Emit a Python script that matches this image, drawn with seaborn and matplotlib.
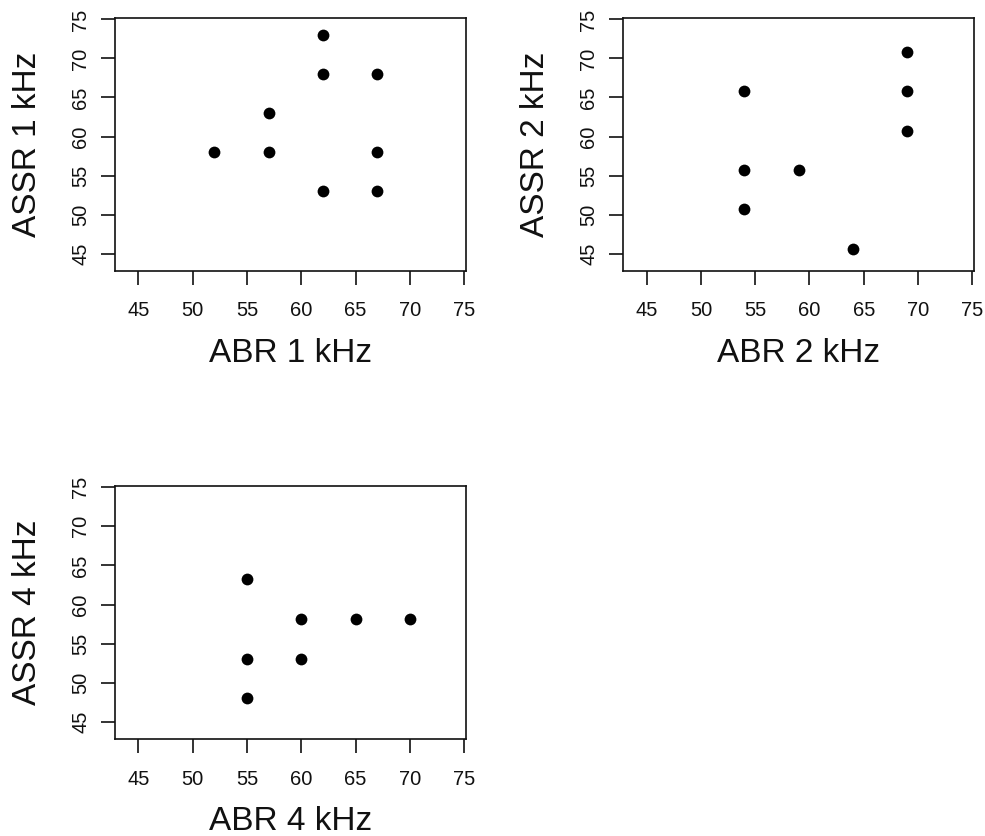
import matplotlib
matplotlib.use("Agg")
import matplotlib.pyplot as plt
import seaborn as sns
import pandas as pd

# ── data ──────────────────────────────────────────────────────────────────────
abr_1k  = [52, 57, 57, 62, 62, 62, 67, 67, 67]
assr_1k = [58, 63, 58, 73, 68, 53, 68, 58, 53]

abr_2k  = [54, 54, 54, 59, 64, 69, 69, 69]
assr_2k = [65.8, 55.7, 50.7, 55.7, 45.6, 70.8, 65.8, 60.7]

abr_4k  = [55, 55, 55, 60, 60, 65, 70]
assr_4k = [63.3, 53.1, 48.1, 58.1, 53.1, 58.1, 58.1]

ticks = [45, 50, 55, 60, 65, 70, 75]

# ── style ─────────────────────────────────────────────────────────────────────
sns.set_style("ticks")
plt.rcParams["font.family"] = ["Liberation Sans", "DejaVu Sans"]

fig = plt.figure(figsize=(9.85, 8.36), dpi=100)

panels = [
    (abr_1k, assr_1k, "ABR 1 kHz", "ASSR 1 kHz", [0.1168, 0.6762, 0.356, 0.3019]),
    (abr_2k, assr_2k, "ABR 2 kHz", "ASSR 2 kHz", [0.6328, 0.6762, 0.356, 0.3019]),
    (abr_4k, assr_4k, "ABR 4 kHz", "ASSR 4 kHz", [0.1168, 0.1157, 0.356, 0.3030]),
]

for x, y, xl, yl, rect in panels:
    ax = fig.add_axes(rect)
    df = pd.DataFrame({"x": x, "y": y})
    sns.scatterplot(data=df, x="x", y="y", ax=ax, color="black",
                    s=72, linewidth=0, marker="o")
    ax.set_xlim(42.85, 75.15)
    ax.set_ylim(42.8, 75.15)
    ax.set_xticks(ticks)
    ax.set_yticks(ticks)
    ax.tick_params(axis="both", direction="out", length=10, width=1.2,
                   color="#111111", labelsize=14.5, labelcolor="#111111")
    ax.tick_params(axis="x", pad=12)
    ax.tick_params(axis="y", pad=8)
    for lab in ax.get_yticklabels():
        lab.set_rotation(90)
        lab.set_va("center")
    for sp in ax.spines.values():
        sp.set_linewidth(1.2)
        sp.set_color("#111111")
    ax.set_xlabel(xl, fontsize=24, color="#111111")
    ax.set_ylabel(yl, fontsize=24, color="#111111")
    ax.xaxis.set_label_coords(0.5, -0.265)
    ax.yaxis.set_label_coords(-0.205, 0.5)
    ax.xaxis.label.set_va("top")

fig.savefig("out.png", dpi=100, facecolor="white")
